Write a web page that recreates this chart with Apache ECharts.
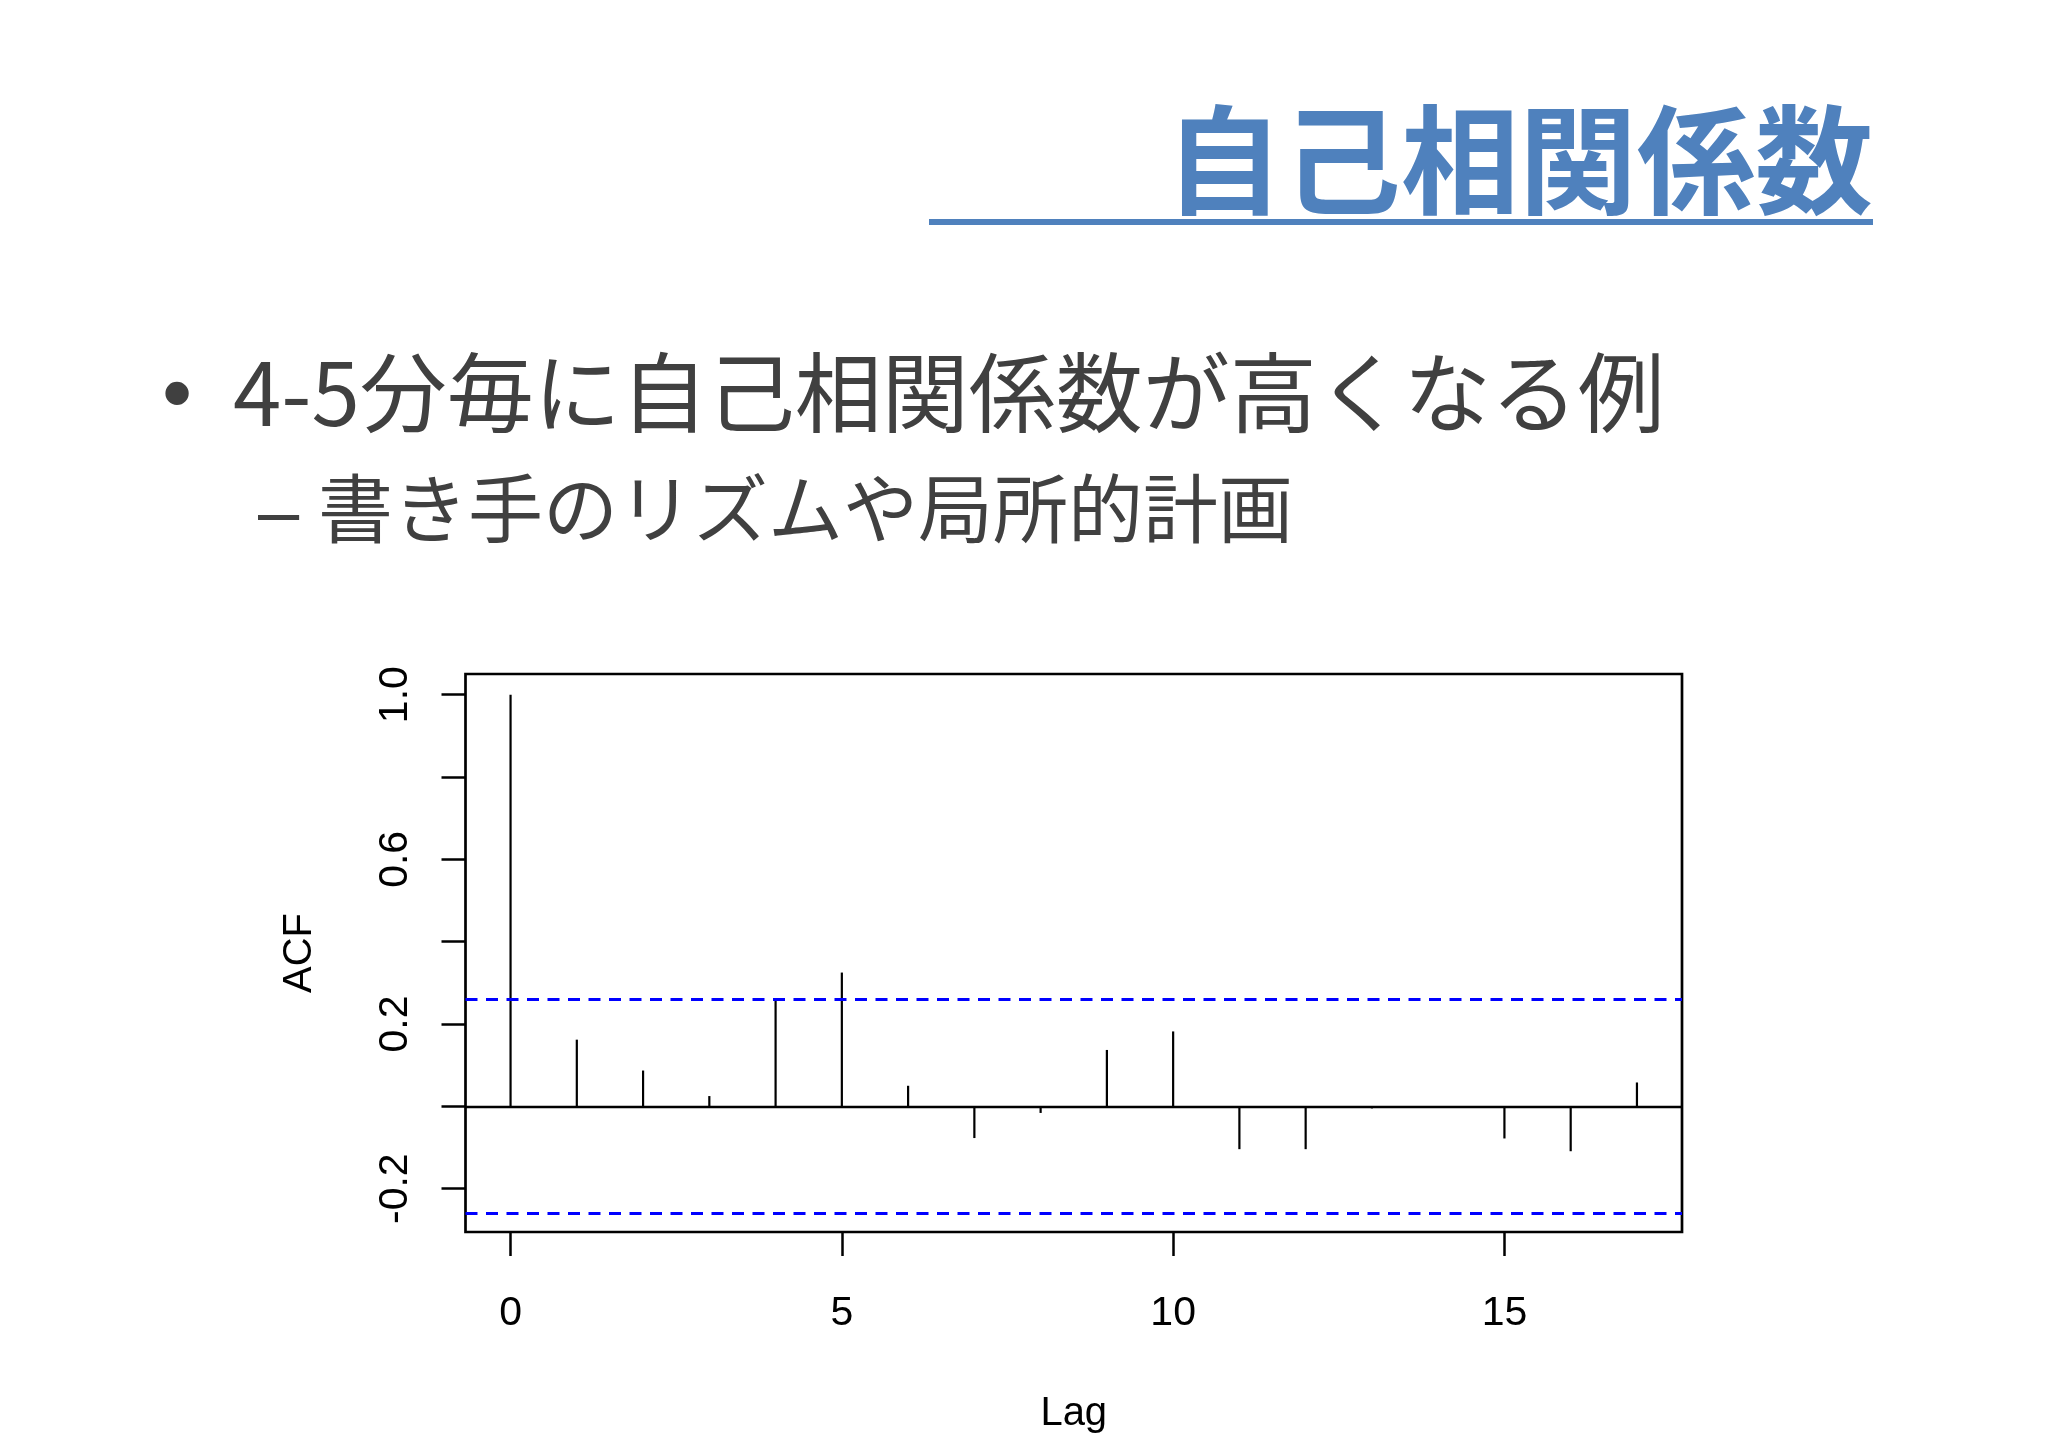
<!DOCTYPE html>
<html>
<head>
<meta charset="utf-8">
<script src="https://cdn.jsdelivr.net/npm/echarts@6/dist/echarts.min.js"></script>
<style>
  html, body { margin: 0; padding: 0; background: #ffffff; }
  #chart { width: 2048px; height: 1447px; }
</style>
</head>
<body>
<div id="chart"></div>
<script>
// ---- data ----
const lags = [0, 1, 2, 3, 4, 5, 6, 7, 8, 9, 10, 11, 12, 13, 14, 15, 16, 17];
const acfValues = [1.0, 0.162, 0.087, 0.025, 0.262, 0.325, 0.050, -0.077, -0.016, 0.137, 0.182, -0.104, -0.104, -0.005, -0.004, -0.078, -0.109, 0.058];
const ciBound = 0.255;
const yTickValues = [-0.2, 0, 0.2, 0.4, 0.6, 0.8, 1.0];
const yTickLabels = [-0.2, 0.2, 0.6, 1.0];
const xTickValues = [0, 5, 10, 15];

const slideTitle = '自己相関係数';
const bulletText = '4-5分毎に自己相関係数が高くなる例';
const subBulletText = '書き手のリズムや局所的計画';

// R-style axis ranges (4% extension)
const yLow = Math.min(-ciBound, ...acfValues);
const yHigh = Math.max(ciBound, ...acfValues);
const yPad = 0.04 * (yHigh - yLow);
const xPad = 0.04 * (lags[lags.length - 1] - lags[0]);

const seriesData = lags.map((l, i) => [l, acfValues[i]]);

const chart = echarts.init(document.getElementById('chart'), null, { renderer: 'canvas' });

const cjk = '"Noto Sans CJK JP", "Noto Sans", sans-serif';
const latin = '"Liberation Sans", Arial, Helvetica, sans-serif';
const textGray = '#404040';
const blue = '#4F81BD';

chart.setOption({
  animation: false,
  backgroundColor: '#ffffff',
  title: [
    { text: slideTitle, right: 175, top: 101, padding: 0,
      textStyle: { fontFamily: cjk, fontSize: 118, lineHeight: 118, fontWeight: 'bold', color: blue } },
    { text: '•', left: 162, top: 355, padding: 0,
      textStyle: { fontFamily: latin, fontSize: 86, lineHeight: 86, fontWeight: 'normal', color: textGray } },
    { text: bulletText, left: 233, top: 349, padding: 0,
      textStyle: { fontFamily: cjk, fontSize: 87, lineHeight: 87, fontWeight: 'normal', color: textGray } },
    { text: '–', left: 258, top: 479, padding: 0,
      textStyle: { fontFamily: latin, fontSize: 74, lineHeight: 74, fontWeight: 'normal', color: textGray } },
    { text: subBulletText, left: 318, top: 471, padding: 0,
      textStyle: { fontFamily: cjk, fontSize: 75, lineHeight: 75, fontWeight: 'normal', color: textGray } }
  ],
  graphic: [
    { type: 'rect', shape: { x: 929, y: 219, width: 944, height: 6 }, style: { fill: blue }, silent: true }
  ],
  grid: {
    left: 465.5, right: 366, top: 674, bottom: 215,
    show: true, borderColor: '#000000', borderWidth: 2.7, backgroundColor: 'transparent',
    containLabel: false
  },
  xAxis: {
    type: 'value',
    min: lags[0] - xPad,
    max: lags[lags.length - 1] + xPad,
    axisLine: { show: false, onZero: false },
    splitLine: { show: false },
    axisTick: { show: true, inside: false, length: 24, customValues: xTickValues,
      lineStyle: { color: '#000000', width: 2.5 } },
    axisLabel: { show: true, customValues: xTickValues, margin: 61,
      fontFamily: latin, fontSize: 41, color: '#000000' },
    name: 'Lag',
    nameLocation: 'middle',
    nameGap: 162,
    nameTextStyle: { fontFamily: latin, fontSize: 40, color: '#000000' }
  },
  yAxis: {
    type: 'value',
    min: yLow - yPad,
    max: yHigh + yPad,
    axisLine: { show: false, onZero: false },
    splitLine: { show: false },
    axisTick: { show: true, inside: false, length: 24, customValues: yTickValues,
      lineStyle: { color: '#000000', width: 2.5 } },
    axisLabel: { show: true, customValues: yTickLabels, margin: 49, rotate: 90,
      fontFamily: latin, fontSize: 41, color: '#000000',
      formatter: v => Number(v).toFixed(1) },
    name: 'ACF',
    nameLocation: 'middle',
    nameGap: 146,
    nameTextStyle: { fontFamily: latin, fontSize: 40, color: '#000000' }
  },
  series: [{
    type: 'bar',
    name: 'ACF',
    data: seriesData,
    barWidth: 2.2,
    itemStyle: { color: '#000000' },
    silent: true,
    markLine: {
      silent: true,
      symbol: 'none',
      label: { show: false },
      animation: false,
      data: [
        { yAxis: 0, lineStyle: { color: '#000000', width: 2.4, type: 'solid' } },
        { yAxis: ciBound, lineStyle: { color: '#0000FF', width: 2.8, type: [12, 8.5] } },
        { yAxis: -ciBound, lineStyle: { color: '#0000FF', width: 2.8, type: [12, 8.5] } }
      ]
    }
  }]
});
</script>
</body>
</html>
